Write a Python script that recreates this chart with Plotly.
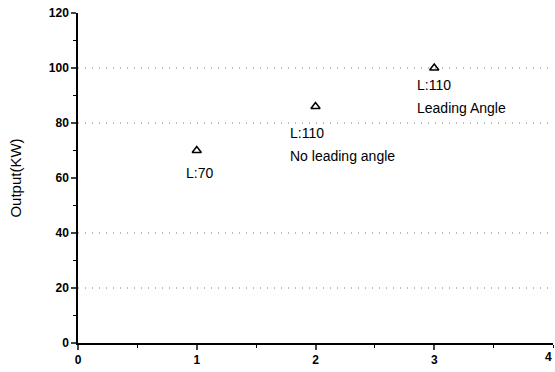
import plotly.graph_objects as go

# data
x_vals = [1, 2, 3]
y_vals = [70, 86, 100]
labels_line1 = ["L:70", "L:110", "L:110"]
labels_line2 = ["", "No leading angle", "Leading Angle"]
grid_levels = [20, 40, 80, 100]
x_ticks = [0, 1, 2, 3, 4]
y_ticks = [0, 20, 40, 60, 80, 100, 120]

font_family = "Liberation Sans, Arial, sans-serif"

fig = go.Figure()
fig.add_trace(go.Scatter(
    x=x_vals, y=y_vals, mode="markers",
    marker=dict(symbol="triangle-up-open", size=8, color="black", line=dict(width=1.5, color="black")),
    showlegend=False, cliponaxis=False,
))

for g in grid_levels:
    fig.add_shape(type="line", xref="paper", yref="y", x0=0, x1=1, y0=g, y1=g,
                  line=dict(color="#777777", width=1, dash="1px,6px"), layer="below")

# label placement (pixel shifts relative to each point)
x_shifts = [-13, -28, -19]
y_shifts = [-12, -16, -7]
for xv, yv, l1, l2, xs, ys in zip(x_vals, y_vals, labels_line1, labels_line2, x_shifts, y_shifts):
    fig.add_annotation(x=xv, y=yv, xref="x", yref="y", text=l1, showarrow=False,
                       xanchor="left", yanchor="top", xshift=xs, yshift=ys,
                       font=dict(family=font_family, size=14, color="black"))
    if l2:
        fig.add_annotation(x=xv, y=yv, xref="x", yref="y", text=l2, showarrow=False,
                           xanchor="left", yanchor="top", xshift=xs, yshift=ys - 23,
                           font=dict(family=font_family, size=14, color="black"))

# last x tick label, kept inside the page edge
fig.add_annotation(x=x_ticks[-1], y=0, xref="x", yref="y", text=str(x_ticks[-1]), showarrow=False,
                   xanchor="right", yanchor="top", yshift=-5, xshift=1,
                   font=dict(family=font_family, size=12, weight="bold", color="black"))

fig.update_layout(
    width=555, height=372,
    margin=dict(l=78, r=2, t=13, b=29),
    plot_bgcolor="white", paper_bgcolor="white",
    font=dict(family=font_family, color="black"),
)
fig.update_xaxes(
    range=[0, 4], tickvals=x_ticks[:-1], ticks="outside", ticklen=5, tickwidth=1.5,
    showline=True, linecolor="black", linewidth=1.5, showgrid=False, zeroline=False,
    tickfont=dict(family=font_family, size=12, weight="bold"),
    minor=dict(ticks="outside", ticklen=3, dtick=0.5, tickwidth=1.2, tickcolor="black"),
)
fig.update_yaxes(
    range=[0, 120], tickvals=y_ticks, ticks="outside", ticklen=5, tickwidth=1.5,
    showline=True, linecolor="black", linewidth=1.5, showgrid=False, zeroline=False,
    tickfont=dict(family=font_family, size=12, weight="bold"),
    minor=dict(ticks="outside", ticklen=3, dtick=10, tickwidth=1.2, tickcolor="black"),
    title=dict(text="Output(KW)", font=dict(family=font_family, size=15), standoff=24),
)

fig.write_html("out.html")
